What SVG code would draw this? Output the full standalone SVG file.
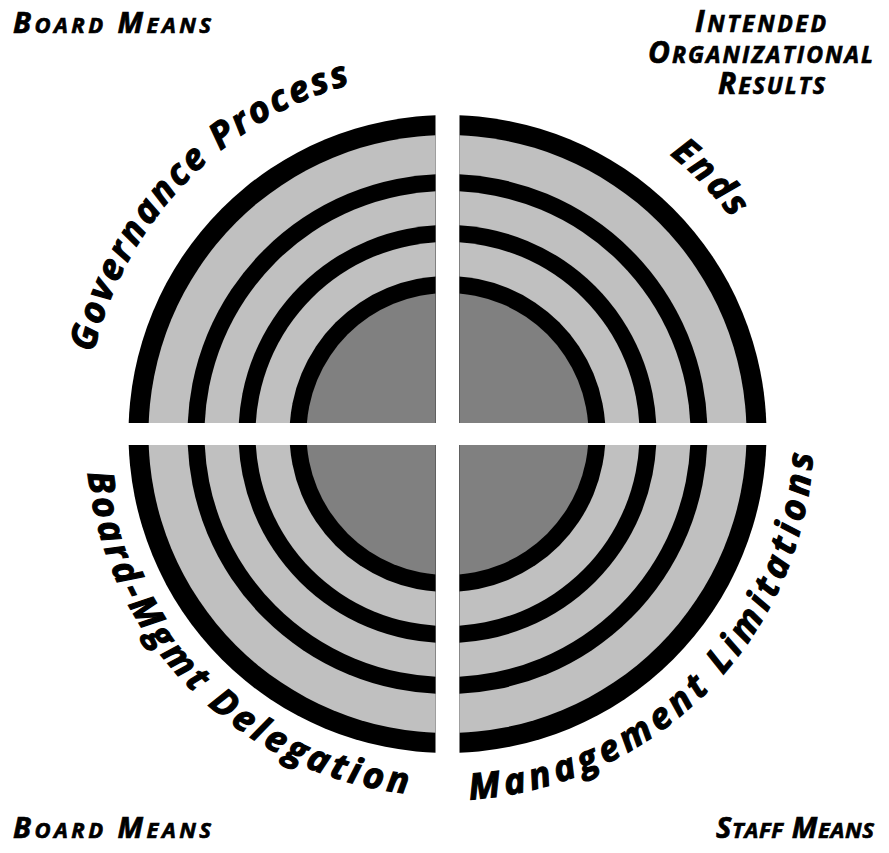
<svg xmlns="http://www.w3.org/2000/svg" xmlns:xlink="http://www.w3.org/1999/xlink" width="889" height="853" viewBox="0 0 889 853">
<style>
.blk{fill:#000}
.lg{fill:#c0c0c0}
.dg{fill:#808080}
.arc{font-family:"Open Sans","DejaVu Sans",sans-serif;font-weight:700;font-style:italic;font-size:36px;fill:#000;stroke:#000;stroke-width:1.1px}
.corner{font-family:"Open Sans","DejaVu Sans",sans-serif;font-weight:700;font-style:italic;fill:#000;stroke:#000;stroke-width:0.7px}
.cap{font-size:29px}
.sc{font-size:22px}
.cap2{font-size:30px}
.sc2{font-size:23px}
</style>
<defs>
<g id="rings">
<circle class="blk" cx="447.5" cy="434" r="319"/>
<circle class="lg" cx="447.5" cy="434" r="299"/>
<circle class="blk" cx="447.5" cy="434" r="260"/>
<circle class="lg" cx="447.5" cy="434" r="243"/>
<circle class="blk" cx="447.5" cy="434" r="209"/>
<circle class="lg" cx="447.5" cy="434" r="192"/>
<circle class="blk" cx="447.5" cy="434" r="158"/>
<circle class="dg" cx="447.5" cy="434" r="141"/>
</g>
<clipPath id="cTL"><rect x="0" y="0" width="435.5" height="423"/></clipPath>
<clipPath id="cTR"><rect x="459.5" y="0" width="430" height="423"/></clipPath>
<clipPath id="cBL"><rect x="0" y="445" width="435.5" height="408"/></clipPath>
<clipPath id="cBR"><rect x="459.5" y="445" width="430" height="408"/></clipPath>
<path id="pGov" d="M 93.80 352.34 A 363 363 0 0 1 571.65 92.89"/>
<path id="pEnds" d="M 669.74 154.61 A 357 357 0 0 1 782.97 311.9"/>
<path id="pBoard" d="M 87.62 473.10 A 362 362 0 0 0 628.5 747.5"/>
<path id="pMgmt" d="M 469.84 799.32 A 366 366 0 0 0 764.47 251"/>
</defs>
<rect x="0" y="0" width="889" height="853" fill="#fff"/>

<g id="quadrant-governance"><use xlink:href="#rings" clip-path="url(#cTL)"/></g>
<g id="quadrant-ends"><use xlink:href="#rings" clip-path="url(#cTR)"/></g>
<g id="quadrant-delegation"><use xlink:href="#rings" clip-path="url(#cBL)"/></g>
<g id="quadrant-limitations"><use xlink:href="#rings" clip-path="url(#cBR)"/></g>

<g id="arc-labels">
<text class="arc"><textPath xlink:href="#pGov" textLength="389" lengthAdjust="spacing">Governance Process</textPath></text>
<text class="arc"><textPath xlink:href="#pEnds" textLength="89" lengthAdjust="spacing">Ends</textPath></text>
<text class="arc"><textPath xlink:href="#pBoard" textLength="489" lengthAdjust="spacing">Board-Mgmt Delegation</textPath></text>
<text class="arc"><textPath xlink:href="#pMgmt" textLength="533" lengthAdjust="spacing">Management Limitations</textPath></text>
</g>

<g id="corner-labels">
<text class="corner" x="13" y="33" textLength="198" lengthAdjust="spacing"><tspan class="cap">B</tspan><tspan class="sc">OARD</tspan><tspan class="cap"> M</tspan><tspan class="sc">EANS</tspan></text>
<text class="corner"><tspan x="695" y="32" textLength="131" lengthAdjust="spacing"><tspan class="cap2">I</tspan><tspan class="sc2">NTENDED</tspan></tspan><tspan x="648" y="63" textLength="225" lengthAdjust="spacing"><tspan class="cap2">O</tspan><tspan class="sc2">RGANIZATIONAL</tspan></tspan><tspan x="718" y="94" textLength="107" lengthAdjust="spacing"><tspan class="cap2">R</tspan><tspan class="sc2">ESULTS</tspan></tspan></text>
<text class="corner" x="13" y="838" textLength="198" lengthAdjust="spacing"><tspan class="cap">B</tspan><tspan class="sc">OARD</tspan><tspan class="cap"> M</tspan><tspan class="sc">EANS</tspan></text>
<text class="corner" x="716" y="838" textLength="158" lengthAdjust="spacing"><tspan class="cap">S</tspan><tspan class="sc">TAFF</tspan><tspan class="cap"> M</tspan><tspan class="sc">EANS</tspan></text>
</g>
</svg>
